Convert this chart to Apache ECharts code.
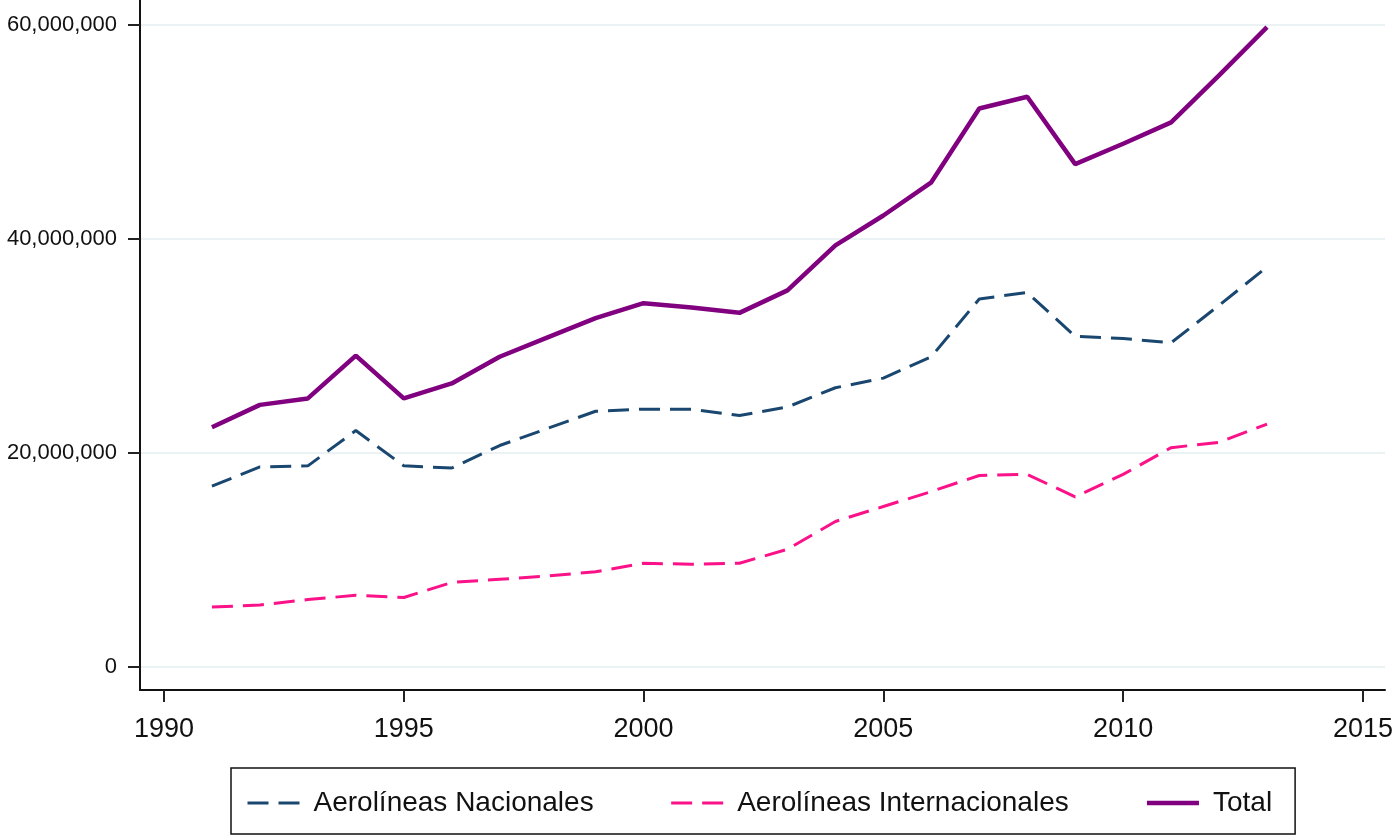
<!DOCTYPE html>
<html>
<head>
<meta charset="utf-8">
<script src="https://cdn.jsdelivr.net/npm/echarts@6/dist/echarts.min.js"></script>
<style>
html,body{margin:0;padding:0;background:#fff;}
#chart{width:1396px;height:836px;}
</style>
</head>
<body>
<div id="chart"></div>
<script>
const years = [1991,1992,1993,1994,1995,1996,1997,1998,1999,2000,2001,2002,2003,2004,2005,2006,2007,2008,2009,2010,2011,2012,2013];
const nacionales = [16.9,18.7,18.8,22.1,18.8,18.6,20.7,22.3,23.9,24.1,24.1,23.5,24.3,26.1,27.0,29.0,34.4,35.0,30.9,30.7,30.3,33.8,37.4];
const internacionales = [5.6,5.8,6.3,6.7,6.5,7.9,8.2,8.5,8.9,9.7,9.6,9.7,11.0,13.6,15.0,16.4,17.9,18.0,15.9,18.0,20.5,21.0,22.7];
const total = [22.4,24.5,25.1,29.1,25.1,26.5,29.0,30.8,32.6,34.0,33.6,33.1,35.2,39.4,42.2,45.3,52.2,53.3,47.0,48.9,50.9,55.3,59.8];
const xTicks = [1990,1995,2000,2005,2010,2015];
const yTicks = [0,20000000,40000000,60000000];
const seriesNames = ['Aerolíneas Nacionales','Aerolíneas Internacionales','Total'];

const M = 1000000;
const pairs = arr => years.map((y,i) => [y, arr[i]*M]);
const fmt = v => String(Math.round(v)).replace(/\B(?=(\d{3})+(?!\d))/g, ',');

const chart = echarts.init(document.getElementById('chart'), null, {renderer:'canvas'});
const font = '"Liberation Sans", Arial, sans-serif';
chart.setOption({
  animation:false,
  backgroundColor:'#ffffff',
  grid:{left:140, right:11, top:0, bottom:146, containLabel:false},
  xAxis:{
    type:'value', min:1989.5, max:2015.46,
    axisLine:{show:true, onZero:false, lineStyle:{color:'#111', width:2}},
    axisTick:{show:true, length:12, lineStyle:{color:'#222', width:2}, customValues:xTicks},
    axisLabel:{customValues:xTicks, fontFamily:font, fontSize:27, color:'#111', margin:26, formatter:v=>String(v)},
    splitLine:{show:false}
  },
  yAxis:{
    type:'value', min:-2150000, max:62340000,
    axisLine:{show:true, onZero:false, lineStyle:{color:'#111', width:2}},
    axisTick:{show:true, length:12, lineStyle:{color:'#222', width:2}, customValues:yTicks},
    axisLabel:{customValues:yTicks, fontFamily:font, fontSize:22, color:'#111', margin:23, formatter:v=>fmt(v)},
    splitLine:{show:true, lineStyle:{color:'#eaf2f3', width:2}}
  },
  legend:{
    left:231, top:768,
    orient:'horizontal',
    padding:[21,23,17,15],
    borderColor:'#111', borderWidth:1.5,
    itemWidth:52, itemHeight:14, itemGap:76,
    itemStyle:{opacity:0},
    lineStyle:{width:'inherit'},
    textStyle:{fontFamily:font, fontSize:28, color:'#111', padding:[0,0,0,9]},
    data:seriesNames
  },
  series:[
    {name:seriesNames[0], type:'line', data:pairs(nacionales), symbol:'none', color:'#1a476f',
     lineStyle:{color:'#1a476f', width:3, type:[21,10]}},
    {name:seriesNames[1], type:'line', data:pairs(internacionales), symbol:'none', color:'#fb1188',
     lineStyle:{color:'#fb1188', width:3, type:[21,10]}},
    {name:seriesNames[2], type:'line', data:pairs(total), symbol:'none', color:'#80007f',
     lineStyle:{color:'#80007f', width:4.5}}
  ]
});
</script>
</body>
</html>
